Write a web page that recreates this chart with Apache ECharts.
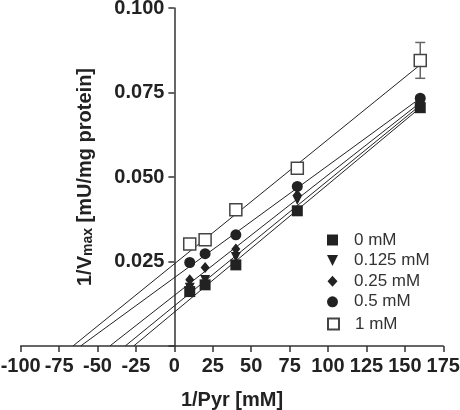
<!DOCTYPE html>
<html>
<head>
<meta charset="utf-8">
<script src="https://cdn.jsdelivr.net/npm/echarts@6/dist/echarts.min.js"></script>
<style>
html,body{margin:0;padding:0;background:#fff;}
#chart{width:460px;height:410px;}
</style>
</head>
<body>
<div id="chart"></div>
<script>
// ---- data ----
const xVals = [10, 20, 40, 80, 160];
const seriesNames = ['0 mM', '0.125 mM', '0.25 mM', '0.5 mM', '1 mM'];
const y0mM    = [0.0161, 0.0181, 0.0240, 0.0400, 0.0705];
const y0125mM = [0.0172, 0.0195, 0.0263, 0.0432, 0.0712];
const y025mM  = [0.0196, 0.0232, 0.0287, 0.0447, 0.0720];
const y05mM   = [0.0247, 0.0273, 0.0329, 0.0472, 0.0733];
const y1mM    = [0.0302, 0.0314, 0.0403, 0.0526, 0.0845];
// error bar (only visible one): 1 mM at x = 160
const errX = [160];
const errY = [0.0845];
const errSD = [0.0053];
// fitted lines: x-intercepts and fitted value at x = 160
const fitXIntercept = [-26.5, -32, -42, -61, -66];
const fitEndX = 160;
const fitAtEnd = [0.0705, 0.0712, 0.0720, 0.0733, 0.0832];
// axis ticks
const xMin = -100, xMax = 175, xStep = 25;
const yMin = 0, yMax = 0.1, yStep = 0.025;

const ink = '#222';
const font = "'Liberation Sans', Arial, sans-serif";
const allY = [y0mM, y0125mM, y025mM, y05mM, y1mM];
const symbols = [
  {symbol: 'rect', size: 11, rotate: 0, style: {color: ink}},
  {symbol: 'triangle', size: [10, 10], rotate: 180, style: {color: ink}},
  {symbol: 'diamond', size: [9, 11], rotate: 0, style: {color: ink}},
  {symbol: 'circle', size: 11, rotate: 0, style: {color: ink}},
  {symbol: 'rect', size: 12, rotate: 0, style: {color: '#fff', borderColor: '#444', borderWidth: 1.5}}
];
const legendIcons = ['rect', 'path://M0,0 L10,0 L5,10 Z', 'path://M5,0 L10,5.5 L5,11 L0,5.5 Z', 'circle', 'rect'];

const series = [];
seriesNames.forEach((n, i) => {
  series.push({
    name: 'fit ' + n, type: 'line', silent: true, symbol: 'none',
    lineStyle: {color: ink, width: 1},
    data: [[fitXIntercept[i], 0], [fitEndX, fitAtEnd[i]]],
    z: 2
  });
});
series.push({
  type: 'custom', name: 'err', silent: true, z: 3,
  data: errX.map((x, i) => [x, errY[i] - errSD[i], errY[i] + errSD[i]]),
  renderItem: function (params, api) {
    const lo = api.coord([api.value(0), api.value(1)]);
    const hi = api.coord([api.value(0), api.value(2)]);
    const hw = 5;
    const st = {stroke: '#666', lineWidth: 1.5};
    return {type: 'group', children: [
      {type: 'line', shape: {x1: lo[0], y1: lo[1], x2: hi[0], y2: hi[1]}, style: st},
      {type: 'line', shape: {x1: lo[0] - hw, y1: lo[1], x2: lo[0] + hw, y2: lo[1]}, style: st},
      {type: 'line', shape: {x1: hi[0] - hw, y1: hi[1], x2: hi[0] + hw, y2: hi[1]}, style: st}
    ]};
  }
});
seriesNames.forEach((n, i) => {
  series.push({
    name: n, type: 'scatter', z: 5,
    symbol: symbols[i].symbol, symbolSize: symbols[i].size, symbolRotate: symbols[i].rotate,
    itemStyle: Object.assign({opacity: 1}, symbols[i].style),
    data: xVals.map((x, k) => [x, allY[i][k]])
  });
});

const gridLeft = 20.7, gridRight = 16.7;
const plotW = 460 - gridLeft - gridRight;
const yAxisShift = plotW * (0 - xMin) / (xMax - xMin);

const legendBase = {
  orient: 'vertical', left: 327, padding: 0,
  itemWidth: 11, itemHeight: 11, itemGap: 3.6,
  textStyle: {fontSize: 17, color: '#333', fontFamily: font, padding: [0, 0, 0, 11]},
  selectedMode: false
};

const chart = echarts.init(document.getElementById('chart'), null, {renderer: 'canvas'});
chart.setOption({
  animation: false,
  backgroundColor: '#fff',
  grid: {left: gridLeft, right: gridRight, top: 8, bottom: 64, containLabel: false, outerBoundsMode: 'none'},
  legend: [
    Object.assign({}, legendBase, {top: 231.5,
      data: seriesNames.slice(0, 4).map((n, i) => ({name: n, icon: legendIcons[i]}))}),
    Object.assign({}, legendBase, {top: 315.5,
      data: seriesNames.slice(4).map((n, i) => ({name: n, icon: legendIcons[i + 4]}))})
  ],
  xAxis: {
    type: 'value', min: xMin, max: xMax, interval: xStep,
    name: '1/Pyr [mM]', nameLocation: 'middle', nameGap: 44,
    nameTextStyle: {fontSize: 20, fontWeight: 'bold', color: ink, fontFamily: font},
    axisLine: {onZero: false, lineStyle: {color: '#333', width: 1.5}},
    axisTick: {show: true, length: 6, lineStyle: {color: '#333', width: 1.5}},
    axisLabel: {fontSize: 20, fontWeight: 'bold', color: ink, fontFamily: font, margin: 10},
    splitLine: {show: false}
  },
  yAxis: {
    type: 'value', min: yMin, max: yMax, interval: yStep,
    position: 'left', offset: -yAxisShift,
    name: '1/V{sub|max} [mU/mg protein]', nameLocation: 'middle', nameGap: 79, nameRotate: 90,
    nameTextStyle: {fontSize: 20, fontWeight: 'bold', color: ink, fontFamily: font,
      rich: {sub: {fontSize: 14, fontWeight: 'bold', color: ink, fontFamily: font, verticalAlign: 'bottom', lineHeight: 8}}},
    axisLine: {onZero: false, lineStyle: {color: '#333', width: 1.5}},
    axisTick: {show: true, length: 6, lineStyle: {color: '#333', width: 1.5}},
    axisLabel: {fontSize: 20, fontWeight: 'bold', color: ink, fontFamily: font, margin: 10,
      formatter: v => (v === 0 ? '' : v.toFixed(3))},
    splitLine: {show: false}
  },
  series: series
});
</script>
</body>
</html>
